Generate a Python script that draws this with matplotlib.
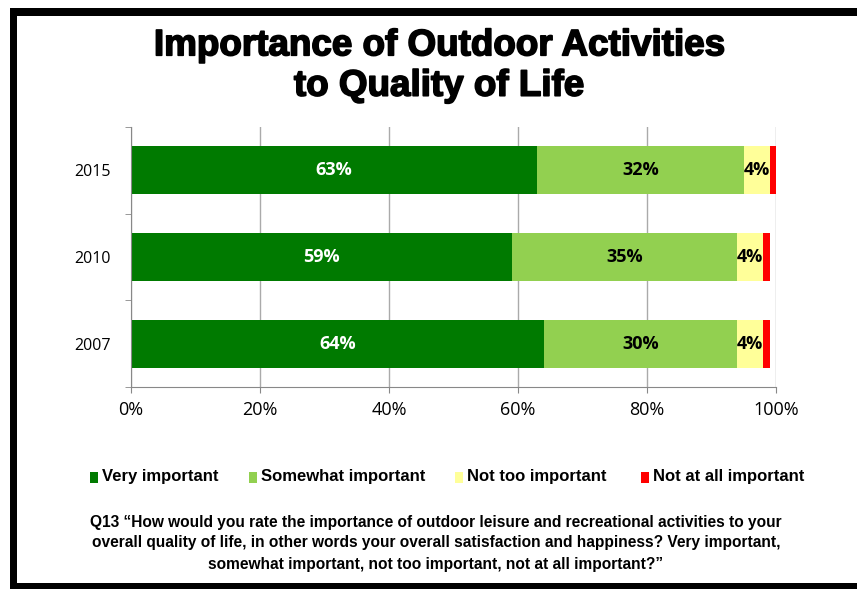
import numpy as np
import matplotlib
matplotlib.use("Agg")
import matplotlib.pyplot as plt
import matplotlib.patheffects as pe
from matplotlib.patches import Rectangle

# Survey data (percent)
years = ["2007", "2010", "2015"]
very = [64, 59, 63]
somewhat = [30, 35, 32]
not_too = [4, 4, 4]
not_at_all = [1, 1, 1]

series_names = ["Very important", "Somewhat important", "Not too important", "Not at all important"]
colors = ["#007A00", "#92D050", "#FFFF99", "#FF0000"]
xticks = [0, 20, 40, 60, 80, 100]

W, H = 857, 589
fig = plt.figure(figsize=(W / 100, H / 100), dpi=100)
fig.patch.set_facecolor("white")

# Black frame (left, top, bottom)
fig.add_artist(Rectangle((10 / W, 0), 7 / W, 1 - 8 / H, transform=fig.transFigure, color="black", lw=0))
fig.add_artist(Rectangle((10 / W, 1 - 16 / H), 1, 8 / H, transform=fig.transFigure, color="black", lw=0))
fig.add_artist(Rectangle((10 / W, 0), 1, 6 / H, transform=fig.transFigure, color="black", lw=0))

# Axes placed in pixel coords
x0, x1, y0, y1 = 131, 776, 127, 387
ax = fig.add_axes([x0 / W, (H - y1) / H, (x1 - x0) / W, (y1 - y0) / H])

y = np.arange(len(years))
data = [very, somewhat, not_too, not_at_all]
left = np.zeros(len(years))
bar_h = 0.55
for i, (vals, c) in enumerate(zip(data, colors)):
    vals = np.array(vals, dtype=float)
    ax.barh(y, vals, left=left, height=bar_h, color=c, label=series_names[i], zorder=2)
    if i < 3:
        for yy, l, v in zip(y, left, vals):
            ax.text(l + v / 2, yy, f"{int(v)}%", ha="center", va="center",
                    fontsize=13, fontweight="bold", family="Open Sans",
                    color="white" if i == 0 else "black", zorder=3)
    left += vals

ax.set_xlim(0, 100)
ax.set_ylim(-0.5, 2.5)
ax.set_xticks(xticks)
ax.set_xticklabels([f"{t}%" for t in xticks], fontsize=13, family="Open Sans")
ax.set_yticks(y)
ax.set_yticklabels(years, fontsize=11.5, family="Open Sans")
ax.set_yticks([-0.5, 0.5, 1.5, 2.5], minor=True)
ax.tick_params(axis="y", which="major", length=0, pad=19)
ax.tick_params(axis="y", which="minor", length=4, color="#888888")
ax.tick_params(axis="x", length=4, color="#888888", pad=6)
ax.grid(axis="x", color="#AAAAAA", lw=1, zorder=0)
ax.set_axisbelow(True)
for s in ["top", "right"]:
    ax.spines[s].set_visible(False)
for s in ["left", "bottom"]:
    ax.spines[s].set_color("#888888")
# nudge year labels right a bit (towards the axis)
for lbl in ax.get_yticklabels():
    lbl.set_x(0.01)

# Title
fig.text(439 / W, 1 - 66 / H, "Importance of Outdoor Activities\nto Quality of Life",
         ha="center", va="center", fontsize=26.5, fontweight="bold",
         family=["Liberation Sans", "DejaVu Sans"], linespacing=1.2,
         path_effects=[pe.withStroke(linewidth=1.2, foreground="black")])

# Legend
leg_x = [90, 249, 455, 641]
for xx, name, c in zip(leg_x, series_names, colors):
    fig.add_artist(Rectangle((xx / W, 1 - 483 / H), 8 / W, 11 / H, transform=fig.transFigure, color=c, lw=0))
    fig.text((xx + 12) / W, 1 - 477 / H, name, ha="left", va="center", fontsize=12,
             fontweight="bold", family=["Liberation Sans Narrow", "Liberation Sans"])

note = ("Q13 \u201cHow would you rate the importance of outdoor leisure and recreational activities to your\n"
        "overall quality of life, in other words your overall satisfaction and happiness? Very important,\n"
        "somewhat important, not too important, not at all important?\u201d")
fig.text(436 / W, 1 - 543 / H, note, ha="center", va="center", fontsize=11.2, fontweight="bold",
         family=["Liberation Sans Narrow", "Liberation Sans"], linespacing=1.5)

fig.savefig("out.png", dpi=100)
